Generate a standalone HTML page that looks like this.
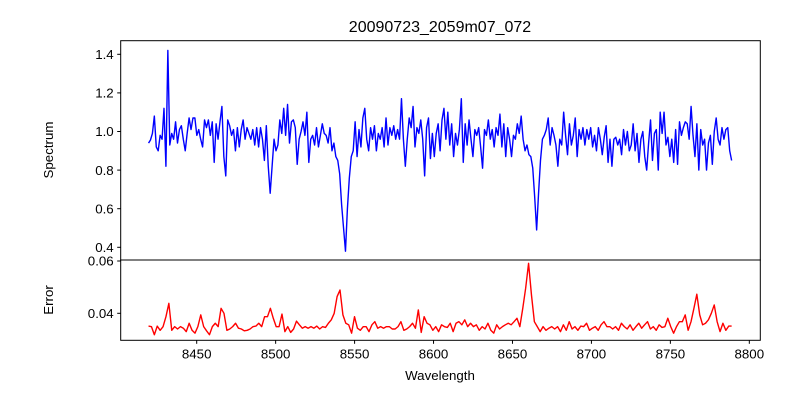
<!DOCTYPE html>
<html><head><meta charset="utf-8"><style>
html,body{margin:0;padding:0;background:#fff;}
svg{display:block;font-family:"Liberation Sans","DejaVu Sans",sans-serif;}
</style></head><body>
<svg id="chart" width="800" height="400" viewBox="0 0 800 400" xmlns="http://www.w3.org/2000/svg">
<text x="440" y="32" font-size="16" text-anchor="middle">20090723_2059m07_072</text>
<g id="topPanel"></g>
<g id="botPanel"></g>
<text x="440" y="380" font-size="13.3" text-anchor="middle">Wavelength</text>
<text x="0" y="0" font-size="13.3" text-anchor="middle" transform="translate(53,150) rotate(-90)">Spectrum</text>
<text x="0" y="0" font-size="13.3" text-anchor="middle" transform="translate(53,300) rotate(-90)">Error</text>
</svg>
<script>
const waveStart = 8419.5;
const waveEnd = 8788.8;
const spectrumFlux = [
.94,.956,.99,1.08,.92,.90,.98,.96,1.12,.82,1.42,.93,.99,.96,1.05,.94,1.01,1.03,.96,.90,.99,1.07,1.01,1.07,1.07,.98,1.01,.96,.92,1.06,1.02,1.06,.98,1.05,.84,1.04,.96,1.05,1.13,.87,.77,1.06,1.03,.98,1.01,.90,1.02,.92,1.01,1.06,.96,1.02,.99,.96,1.01,.93,1.02,.92,1.02,.96,.85,1.03,.82,.68,.82,.96,.90,.93,1.06,.99,1.12,.98,
1.14,.94,1.05,1.06,1.02,.83,.96,1.00,1.05,.98,1.10,.84,.96,.98,.93,1.02,.92,.98,1.04,.99,.98,.94,1.02,.90,.94,.87,.85,.78,.62,.50,.38,.60,.76,.87,.90,1.05,.87,1.01,.92,1.07,1.12,.96,.90,1.02,.96,1.03,.90,.99,.96,1.02,.92,1.07,.93,1.02,.98,1.03,.96,1.01,.96,1.17,.96,.82,.96,1.07,1.02,1.13,.92,1.02,.99,1.06,.96,.77,1.02,1.07,.86,.99,.87,.99,
1.04,.90,1.06,1.12,.96,1.10,.93,1.04,.87,.99,.93,1.01,1.17,.84,1.04,.93,1.06,.96,.87,1.01,.98,1.02,.92,.81,1.01,.98,1.06,.96,1.01,.92,1.02,.98,1.09,.92,1.04,.87,1.02,.96,.87,.98,.96,1.04,.99,1.08,.96,.90,.93,.88,.87,.81,.66,.49,.68,.85,.96,.98,1.01,1.07,.93,1.02,.98,.93,.82,.96,.93,1.10,.98,.88,1.04,.93,.98,1.07,.87,1.01,.96,1.02,
.93,1.01,.96,1.02,.92,.98,.90,1.02,.96,.88,.97,1.03,.84,.96,.82,.96,.97,.93,.96,.88,1.01,.93,1.00,.90,.93,1.04,.90,.99,.84,.96,1.00,.87,.80,.94,1.06,.85,.99,1.01,.80,1.10,.99,1.10,.93,.97,.87,.96,.84,1.01,.83,1.05,.98,1.02,1.05,1.04,.96,1.13,.98,.87,1.04,.80,1.01,.93,.96,.80,.94,.98,.83,1.00,1.07,.96,.93,1.02,.96,1.01,1.02,.90,.85
];
const errorValues = [
.0351,.0349,.0318,.0351,.0335,.0349,.0387,.0438,.0335,.0349,.0340,.0349,.0343,.0330,.0362,.0335,.0324,.0349,.0394,.0349,.0333,.0318,.0349,.0362,.0349,.0419,.0400,.0335,.0340,.0349,.0362,.0343,.0340,.0333,.0335,.0340,.0349,.0351,.0362,.0349,.0387,.0387,.0419,.0381,.0349,.0349,.0397,.0330,.0349,.0327,.0340,.0370,.0356,.0343,.0349,.0343,.0349,.0343,.0351,.0340,.0349,.0346,.0362,.0375,.0400,.0464,.0489,.0394,.0362,.0356,.0324,.0387,.0343,.0335,.0349,.0349,.0330,.0356,.0368,.0343,.0349,.0343,.0349,.0349,.0340,.0340,.0349,.0368,.0335,.0340,.0349,.0362,.0343,.0413,.0327,.0387,.0362,.0356,.0335,
.0349,.0330,.0356,.0349,.0346,.0362,.0330,.0362,.0368,.0356,.0375,.0349,.0362,.0349,.0356,.0335,.0349,.0340,.0362,.0335,.0324,.0356,.0340,.0349,.0356,.0362,.0356,.0368,.0381,.0349,.0419,.0496,.0591,.0470,.0368,.0349,.0330,.0349,.0335,.0343,.0349,.0340,.0349,.0330,.0356,.0335,.0368,.0340,.0349,.0335,.0351,.0349,.0362,.0335,.0343,.0349,.0335,.0356,.0368,.0349,.0349,.0340,.0349,.0335,.0362,.0349,.0340,.0356,.0335,.0349,.0362,.0343,.0356,.0368,.0340,.0349,.0335,.0356,.0346,.0349,.0381,.0349,.0324,.0349,.0368,.0368,.0394,.0335,.0368,.0419,.0473,.0394,.0356,.0362,.0375,.0400,.0432,.0368,.0330,.0362,.0335,.0351,.0351
];
const xTicks = [8450,8500,8550,8600,8650,8700,8750,8800];
const topYTicks = [0.4,0.6,0.8,1.0,1.2,1.4];
const botYTicks = [0.04,0.06];

const NS='http://www.w3.org/2000/svg';
const L=120.7,R=760.3,T1=40.7,B1=260,T2=260,B2=340.3;
function xs(w){return 196.7+(w-8450)*1.5789;}
function yTop(v){return 54.3+(1.4-v)*193;}
function yBot(v){return 313.3-(v-0.04)*2615;}
function mk(tag,attrs,parent){const e=document.createElementNS(NS,tag);for(const k in attrs)e.setAttribute(k,attrs[k]);parent.appendChild(e);return e;}
function grid(n){const a=[];for(let i=0;i<n;i++)a.push(waveStart+(waveEnd-waveStart)*i/(n-1));return a;}

const topG=document.getElementById('topPanel'), botG=document.getElementById('botPanel');
const wl1=grid(spectrumFlux.length);
let d='';spectrumFlux.forEach((v,i)=>{d+=(i?'L':'M')+xs(wl1[i]).toFixed(2)+','+yTop(v).toFixed(2);});
const p1=mk('path',{d:d,fill:'none',stroke:'#0000ff','stroke-width':1.4,'stroke-linejoin':'round'},topG);


const wl2=grid(errorValues.length);
d='';errorValues.forEach((v,i)=>{d+=(i?'L':'M')+xs(wl2[i]).toFixed(2)+','+yBot(v).toFixed(2);});
const p2=mk('path',{d:d,fill:'none',stroke:'#ff0000','stroke-width':1.4,'stroke-linejoin':'round'},botG);


const f1=mk('rect',{x:L,y:T1,width:R-L,height:B1-T1,fill:'none',stroke:'#000','stroke-width':1},topG);


const f2=mk('rect',{x:L,y:T2,width:R-L,height:B2-T2,fill:'none',stroke:'#000','stroke-width':1},botG);


topYTicks.forEach(v=>{const y=yTop(v);
 mk('line',{x1:L-3.5,x2:L,y1:y,y2:y,stroke:'#000'},topG);
 const t=mk('text',{x:L-7,y:y+4.7,'font-size':13.3,'text-anchor':'end'},topG);t.textContent=v.toFixed(1);
 
 });
botYTicks.forEach(v=>{const y=yBot(v);
 mk('line',{x1:L-3.5,x2:L,y1:y,y2:y,stroke:'#000'},botG);
 const t=mk('text',{x:L-7,y:y+4.7,'font-size':13.3,'text-anchor':'end'},botG);t.textContent=v.toFixed(2);
 
 });
xTicks.forEach(w=>{const x=xs(w);
 mk('line',{x1:x,x2:x,y1:B2,y2:B2+3.5,stroke:'#000'},botG);
 const t=mk('text',{x:x,y:B2+18,'font-size':13.3,'text-anchor':'middle'},botG);t.textContent=w;
 
 });
</script>
</body></html>
